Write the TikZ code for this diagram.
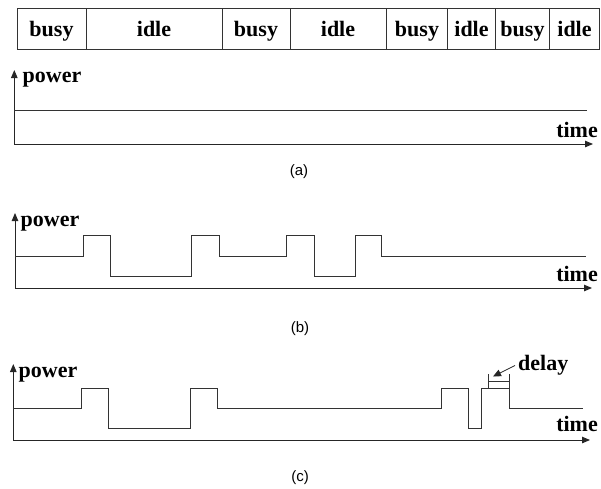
\documentclass[tikz,border=0pt]{standalone}
\usepackage{fontspec}
\setmainfont{Liberation Serif}
\newfontfamily\capfont{Liberation Sans}
\usetikzlibrary{arrows.meta}
\tikzset{
  lbl/.style={font=\fontsize{22}{22}\selectfont\bfseries, inner sep=0pt, anchor=base},
  figcap/.style={font=\capfont\fontsize{15}{15}\selectfont, inner sep=0pt},
  axis/.style={draw=black!85, line width=0.9pt, -{Triangle[length=8pt,width=6.5pt]}},
  sig/.style={draw=black!80, line width=1pt},
  cell/.style={draw=black!80, line width=1pt}
}
\begin{document}
\begin{tikzpicture}[x=1pt,y=-1pt]
\useasboundingbox (0,0) rectangle (601,488);
% top bar
\draw[cell] (17,8.5) rectangle (599.5,49);
\foreach \xx in {86,222.3,290.3,386,447.3,495.7,549.7}
  \draw[cell] (\xx,8.5) -- (\xx,49);
\node[lbl] (c1) at (51.5,36) {busy};
\node[lbl] (c2) at (154,36) {idle};
\node[lbl] (c3) at (256,36) {busy};
\node[lbl] (c4) at (338,36) {idle};
\node[lbl] (c5) at (417,36) {busy};
\node[lbl] (c6) at (471.5,36) {idle};
\node[lbl] (c7) at (522.5,36) {busy};
\node[lbl] (c8) at (574.5,36) {idle};

% ---- (a)
\coordinate (oa) at (14.3,144);
\coordinate (ya) at (14.3,70);
\coordinate (xa) at (593,144);
\draw[axis] (oa) -- (ya);
\draw[axis] (oa) -- (xa);
\node[lbl, anchor=base west] (pa) at (22.5,82) {power};
\node[lbl, anchor=base east] (ta) at (598,137) {time};
\draw[sig] (14.3,110) -- (587,110);
\node[figcap] (la) at (299,171.5) {(a)};

% ---- (b)
\coordinate (ob) at (15,288);
\coordinate (yb) at (15,213);
\coordinate (xb) at (592,288);
\draw[axis] (ob) -- (yb);
\draw[axis] (ob) -- (xb);
\node[lbl, anchor=base west] (pb) at (20.5,226) {power};
\node[lbl, anchor=base east] (tb) at (598,281.7) {time};
\draw[sig] (15,256) -- (83.3,256) -- (83.3,235) -- (110,235) -- (110,276)
  -- (191.7,276) -- (191.7,235) -- (219,235) -- (219,256) -- (286.7,256)
  -- (286.7,235) -- (314.3,235) -- (314.3,276) -- (355,276) -- (355,235)
  -- (381.7,235) -- (381.7,256) -- (586,256);
\node[figcap] (lb) at (300,328.5) {(b)};

% ---- (c)
\coordinate (oc) at (13.3,440);
\coordinate (yc) at (13.3,364);
\coordinate (xc) at (590,440);
\draw[axis] (oc) -- (yc);
\draw[axis] (oc) -- (xc);
\node[lbl, anchor=base west] (pc) at (18.5,377) {power};
\node[lbl, anchor=base east] (tc) at (598,431.7) {time};
\draw[sig] (13.3,408) -- (81.7,408) -- (81.7,388.3) -- (108.3,388.3) -- (108.3,428.3)
  -- (190,428.3) -- (190,388.3) -- (217.3,388.3) -- (217.3,408) -- (441.7,408)
  -- (441.7,388.3) -- (468.3,388.3) -- (468.3,428.3) -- (481.7,428.3)
  -- (481.7,388.3) -- (509.3,388.3) -- (509.3,408) -- (583.3,408);
% delay bracket
\draw[sig, line width=0.8pt] (488.3,374) -- (488.3,388.3);
\draw[sig, line width=0.8pt] (509.3,374) -- (509.3,388.3);
\draw[sig, line width=0.8pt] (488.3,381.7) -- (509.3,381.7);
\node[lbl, anchor=base west] (dl) at (518,370) {delay};
\coordinate (dstart) at (515,365.5);
\coordinate (dtip) at (493,376.5);
\draw[draw=black!85, line width=0.8pt, -{Triangle[length=8pt,width=7pt]}] (dstart) -- (dtip);
\node[figcap] (lc) at (300,478) {(c)};
\end{tikzpicture}
\end{document}
